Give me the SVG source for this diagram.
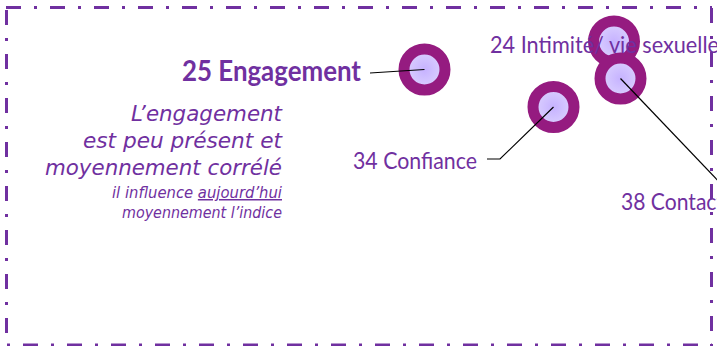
<svg xmlns="http://www.w3.org/2000/svg" width="717" height="346" viewBox="0 0 717 346">
<style>
.border{stroke:#7030A0;stroke-width:3;fill:none;stroke-dasharray:15 13 3 13}
.ring{stroke:#951B80;stroke-width:11;fill:url(#g)}
.lbl{font-family:Lato,"Liberation Sans",sans-serif;fill:#7030A0;font-size:23px}
.it{font-family:"DejaVu Sans",sans-serif;font-style:italic;fill:#7030A0}
.con{stroke:#000;stroke-width:1.2;fill:none}
</style>
<defs>
<radialGradient id="g" cx="0.5" cy="0.5" r="0.5">
<stop offset="0" stop-color="#C6B2FF"/>
<stop offset="1" stop-color="#DCD2FF"/>
</radialGradient>
</defs>
<rect width="717" height="346" fill="#fff"/>
<g id="border">
<line class="border" x1="6" y1="7.5" x2="712" y2="7.5"/>
<line class="border" x1="6.5" y1="10" x2="6.5" y2="346"/>
<line class="border" x1="-21" y1="345" x2="712" y2="345"/>
<line class="border" x1="711.5" y1="8" x2="711.5" y2="346"/>
</g>
<g id="node24"><circle class="ring" cx="614" cy="41.5" r="20.5"/></g>
<g id="node38"><circle class="ring" cx="620.5" cy="78.5" r="20.5"/></g>
<g id="node25"><circle class="ring" cx="424.5" cy="69.5" r="20.5"/></g>
<g id="node34"><circle class="ring" cx="553.5" cy="107" r="20.5"/></g>
<g id="labels">
<text class="lbl" x="182" y="81" style="font-weight:bold;font-size:28px" textLength="179" lengthAdjust="spacingAndGlyphs">25 Engagement</text>
<text class="lbl" x="353" y="169" textLength="124" lengthAdjust="spacingAndGlyphs">34 Confiance</text>
<text class="lbl" x="490" y="53" textLength="229" lengthAdjust="spacingAndGlyphs">24 Intimité/ vie sexuelle</text>
<text class="lbl" x="621" y="210" textLength="103" lengthAdjust="spacingAndGlyphs">38 Contact</text>
</g>
<g id="comment">
<text class="it" x="131" y="121" font-size="21" textLength="151" lengthAdjust="spacingAndGlyphs">L’engagement</text>
<text class="it" x="83" y="148" font-size="21" textLength="199" lengthAdjust="spacingAndGlyphs">est peu présent et</text>
<text class="it" x="45" y="175" font-size="21" textLength="237" lengthAdjust="spacingAndGlyphs">moyennement corrélé</text>
<text class="it" x="112" y="198" font-size="15" textLength="170" lengthAdjust="spacingAndGlyphs">il influence <tspan text-decoration="underline">aujourd’hui</tspan></text>
<text class="it" x="122" y="218" font-size="15" textLength="160" lengthAdjust="spacingAndGlyphs">moyennement l’indice</text>
</g>
<g id="connectors">
<polyline class="con" points="370,73 424.5,69.5"/>
<polyline class="con" points="487,159 500,159 553.5,107"/>
<polyline class="con" points="620.5,78.5 725,188"/>
</g>
</svg>
